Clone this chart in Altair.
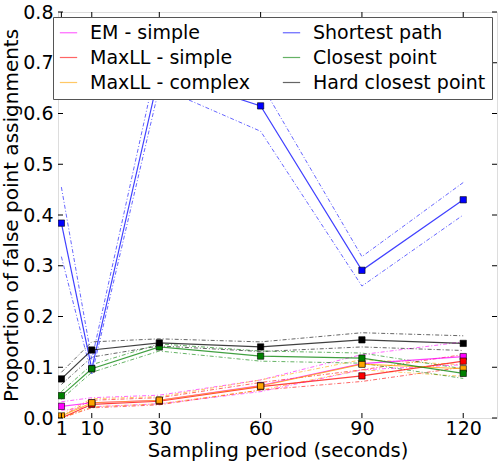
import altair as alt
import pandas as pd

periods = [1, 10, 30, 60, 90, 120]
series_names = ["EM - simple", "MaxLL - simple", "MaxLL - complex",
                "Shortest path", "Closest point", "Hard closest point"]
colors = ["#ff00ff", "#ff0000", "#ffa500", "#0000ff", "#008000", "#000000"]

em_simple = [0.023, 0.030, 0.035, 0.064, 0.107, 0.121]
em_simple_hi = [0.032, 0.040, 0.045, 0.075, 0.125, 0.150]
em_simple_lo = [0.015, 0.022, 0.028, 0.052, 0.095, 0.105]

maxll_simple = [0.000, 0.027, 0.033, 0.062, 0.083, 0.112]
maxll_simple_hi = [0.004, 0.035, 0.040, 0.070, 0.095, 0.125]
maxll_simple_lo = [0.000, 0.020, 0.026, 0.055, 0.072, 0.100]

maxll_complex = [0.004, 0.030, 0.035, 0.063, 0.106, 0.097]
maxll_complex_hi = [0.008, 0.038, 0.042, 0.075, 0.115, 0.105]
maxll_complex_lo = [0.000, 0.022, 0.028, 0.055, 0.095, 0.082]

shortest = [0.384, 0.097, 0.680, 0.615, 0.291, 0.430]
shortest_hi = [0.455, 0.115, 0.720, 0.660, 0.318, 0.464]
shortest_lo = [0.318, 0.085, 0.652, 0.565, 0.260, 0.400]

closest = [0.044, 0.097, 0.140, 0.122, 0.118, 0.088]
closest_hi = [0.052, 0.105, 0.146, 0.132, 0.128, 0.097]
closest_lo = [0.037, 0.090, 0.132, 0.112, 0.108, 0.078]

hard_closest = [0.077, 0.134, 0.148, 0.140, 0.154, 0.147]
hard_closest_hi = [0.090, 0.150, 0.156, 0.150, 0.168, 0.162]
hard_closest_lo = [0.066, 0.120, 0.142, 0.131, 0.140, 0.133]

x_ticks = [1, 10, 30, 60, 90, 120]
y_ticks = [0.0, 0.1, 0.2, 0.3, 0.4, 0.5, 0.6, 0.7, 0.8]

all_mid = [em_simple, maxll_simple, maxll_complex, shortest, closest, hard_closest]
all_hi = [em_simple_hi, maxll_simple_hi, maxll_complex_hi, shortest_hi, closest_hi, hard_closest_hi]
all_lo = [em_simple_lo, maxll_simple_lo, maxll_complex_lo, shortest_lo, closest_lo, hard_closest_lo]

rows = []
for name, mid, hi, lo in zip(series_names, all_mid, all_hi, all_lo):
    for p, m, h, l in zip(periods, mid, hi, lo):
        rows.append({"series": name, "period": p, "value": m, "hi": h, "lo": l})
df = pd.DataFrame(rows)

W, H = 439, 406
FONT = "DejaVu Sans"

xscale = alt.Scale(domain=[0, 130], nice=False, zero=False)
yscale = alt.Scale(domain=[0, 0.8], nice=False)
cscale = alt.Scale(domain=series_names, range=colors)

legend = alt.Legend(title=None, orient="none", legendX=-5, legendY=5,
                    columns=2, symbolType="stroke", symbolSize=300,
                    symbolStrokeWidth=1.2, symbolOpacity=0.6, labelFontSize=19,
                    labelFont=FONT, labelColor="black", labelLimit=400,
                    rowPadding=5, columnPadding=30, padding=6,
                    symbolOffset=0, labelOffset=12,
                    strokeColor="#555555", fillColor="white",
                    zindex=2)
color_enc = alt.Color("series:N", scale=cscale, sort=series_names, legend=legend)

base = alt.Chart(df)

x_enc = alt.X("period:Q", scale=xscale,
              axis=alt.Axis(values=x_ticks, title="Sampling period (seconds)",
                            tickSize=0, domain=False, grid=False, labelPadding=1,
                            labelFontSize=19, titleFontSize=19.5, titlePadding=3,
                            labelFont=FONT, titleFont=FONT, labelColor="black",
                            titleColor="black", titleFontWeight="normal"))
y_enc = alt.Y("value:Q", scale=yscale,
              axis=alt.Axis(values=y_ticks, format=".1f",
                            title="Proportion of false point assignments",
                            tickSize=0, domain=False, grid=False, labelPadding=5,
                            labelFontSize=19, titleFontSize=20, titlePadding=1,
                            labelFont=FONT, titleFont=FONT, labelColor="black",
                            titleColor="black", titleFontWeight="normal"))

hi_lines = base.mark_line(strokeWidth=1, strokeDash=[4, 2, 1, 2], opacity=0.6, clip=True).encode(
    x=alt.X("period:Q", scale=xscale),
    y=alt.Y("hi:Q", scale=yscale),
    color=color_enc,
    detail="series:N",
)
lo_lines = base.mark_line(strokeWidth=1, strokeDash=[4, 2, 1, 2], opacity=0.6, clip=True).encode(
    x=alt.X("period:Q", scale=xscale),
    y=alt.Y("lo:Q", scale=yscale),
    color=color_enc,
    detail="series:N",
)
main_lines = base.mark_line(strokeWidth=1.2, opacity=0.75, clip=True).encode(
    x=x_enc,
    y=y_enc,
    color=color_enc,
)
markers = base.mark_square(size=40, opacity=1, stroke="black", strokeWidth=0.6, clip=True).encode(
    x=alt.X("period:Q", scale=xscale),
    y=alt.Y("value:Q", scale=yscale),
    fill=alt.Fill("series:N", scale=cscale, legend=None),
)

xt = pd.DataFrame({"t": x_ticks})
yt = pd.DataFrame({"t": y_ticks})
tick_bottom = alt.Chart(xt).mark_rule(color="black", strokeWidth=1).encode(
    x=alt.X("t:Q", scale=xscale), y=alt.value(H), y2=alt.value(H - 5))
tick_top = alt.Chart(xt).mark_rule(color="black", strokeWidth=1).encode(
    x=alt.X("t:Q", scale=xscale), y=alt.value(0), y2=alt.value(5))
tick_left = alt.Chart(yt).mark_rule(color="black", strokeWidth=1).encode(
    y=alt.Y("t:Q", scale=yscale), x=alt.value(0), x2=alt.value(5))
tick_right = alt.Chart(yt).mark_rule(color="black", strokeWidth=1).encode(
    y=alt.Y("t:Q", scale=yscale), x=alt.value(W), x2=alt.value(W - 5))

chart = alt.layer(
    hi_lines, lo_lines, main_lines, markers,
    tick_bottom, tick_top, tick_left, tick_right,
).properties(
    width=W, height=H,
    autosize=alt.AutoSizeParams(type="none"),
    padding={"left": 58, "top": 12, "right": 3, "bottom": 43},
).configure_view(
    stroke="black", strokeWidth=1.2
).configure(background="white")

chart.save("out.html", embed_options={"renderer": "svg", "actions": False})
